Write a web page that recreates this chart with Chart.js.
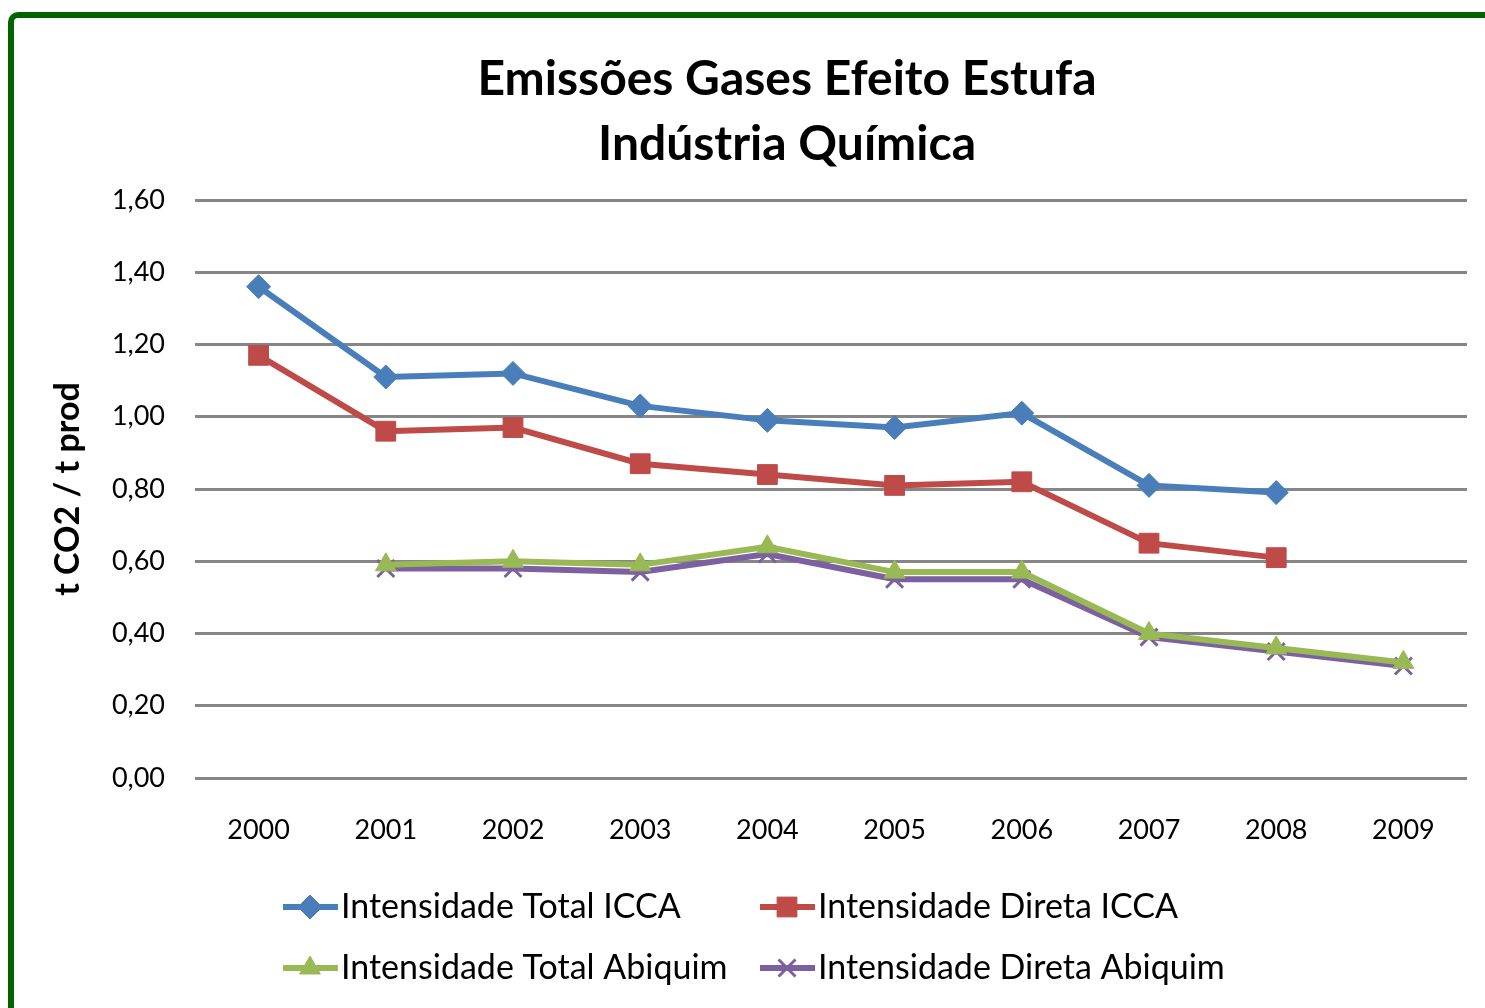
<!DOCTYPE html>
<html>
<head>
<meta charset="utf-8">
<script src="https://cdn.jsdelivr.net/npm/chart.js@4.4.1/dist/chart.umd.min.js"></script>
<style>
html,body{margin:0;padding:0;background:#fff;overflow:hidden;}
#moldura{position:absolute;left:8px;top:12px;width:1520px;height:1100px;border:6px solid #006400;border-radius:10px;box-sizing:border-box;}
#grafico{position:absolute;left:0;top:0;}
</style>
</head>
<body>
<div id="moldura"></div>
<canvas id="grafico" width="1485" height="1008"></canvas>
<script>
/* dados */
const anos=["2000","2001","2002","2003","2004","2005","2006","2007","2008","2009"];
const totalICCA=[1.36,1.11,1.12,1.03,0.99,0.97,1.01,0.81,0.79,null];
const diretaICCA=[1.17,0.96,0.97,0.87,0.84,0.81,0.82,0.65,0.61,null];
const totalAbiquim=[null,0.59,0.60,0.59,0.64,0.57,0.57,0.40,0.36,0.32];
const diretaAbiquim=[null,0.58,0.58,0.57,0.62,0.55,0.55,0.39,0.35,0.31];
const titulo=["Emissões Gases Efeito Estufa","Indústria Química"];
const tituloEixoY="t CO2 / t prod";

const fonte="Lato, 'Open Sans', sans-serif";

/* titulo e legenda desenhados a mao */
const tituloPlugin={
id:"tituloPlugin",
afterDraw(chart){
const c=chart.ctx;
c.save();
c.fillStyle="#000";
c.font="bold 48px "+fonte;
c.textAlign="center";
c.textBaseline="middle";
c.fillText(titulo[0],787,80);
c.fillText(titulo[1],787,145);
c.restore();
}
};

const legendaPlugin={
id:"legendaPlugin",
afterDraw(chart){
const c=chart.ctx;
const colX=[283,760];
const rowY=[907,968];
chart.data.datasets.forEach(function(ds,i){
const x=colX[i%2];
const y=rowY[Math.floor(i/2)];
c.save();
c.strokeStyle=ds.borderColor;
c.lineWidth=6;
c.beginPath();
c.moveTo(x,y);
c.lineTo(x+55,y);
c.stroke();
c.fillStyle=ds.pointBackgroundColor;
c.strokeStyle=ds.pointBorderColor;
c.lineWidth=ds.pointBorderWidth;
Chart.helpers.drawPoint(c,{pointStyle:ds.pointStyle,radius:ds.pointRadius,rotation:0,borderWidth:ds.pointBorderWidth},x+27,y);
c.fillStyle="#000";
c.font="34px "+fonte;
c.textAlign="left";
c.textBaseline="middle";
c.fillText(ds.label,x+58,y);
c.restore();
});
}
};

function serie(label,dados,cor,estilo,raio,borda){
return{
label:label,
data:dados,
borderColor:cor,
backgroundColor:cor,
borderWidth:6,
pointStyle:estilo,
pointRadius:raio,
pointHoverRadius:raio,
pointBackgroundColor:cor,
pointBorderColor:cor,
pointBorderWidth:borda,
tension:0,
spanGaps:false
};
}

new Chart(document.getElementById("grafico"),{
type:"line",
data:{
labels:anos,
datasets:[
serie("Intensidade Total ICCA",totalICCA,"#4A7EBB","rectRot",12,1),
serie("Intensidade Direta ICCA",diretaICCA,"#BE4B48","rect",14,1),
serie("Intensidade Total Abiquim",totalAbiquim,"#98B954","triangle",12,1),
serie("Intensidade Direta Abiquim",diretaAbiquim,"#7D60A0","crossRot",12,3)
]
},
options:{
responsive:false,
animation:false,
layout:{
padding:{left:40,right:18,top:200,bottom:160}
},
plugins:{
legend:{display:false},
title:{display:false},
tooltip:{enabled:false}
},
scales:{
x:{
offset:true,
grid:{display:false,drawTicks:false},
border:{display:false},
ticks:{
color:"#000",
padding:36,
font:{family:fonte,size:27}
},
afterFit:function(scale){
scale.height=70;
}
},
y:{
min:0,
max:1.6,
grid:{color:"#868686",lineWidth:3,drawTicks:false},
border:{display:false},
ticks:{
stepSize:0.2,
color:"#000",
padding:30,
font:{family:fonte,size:27},
callback:function(value){
return value.toFixed(2).replace(".",",");
}
},
title:{
display:true,
text:tituloEixoY,
color:"#000",
font:{family:fonte,size:34,weight:"bold"},
padding:{top:8,bottom:0}
},
afterFit:function(scale){
scale.width=155;
}
}
}
},
plugins:[tituloPlugin,legendaPlugin]
});
</script>
</body>
</html>
